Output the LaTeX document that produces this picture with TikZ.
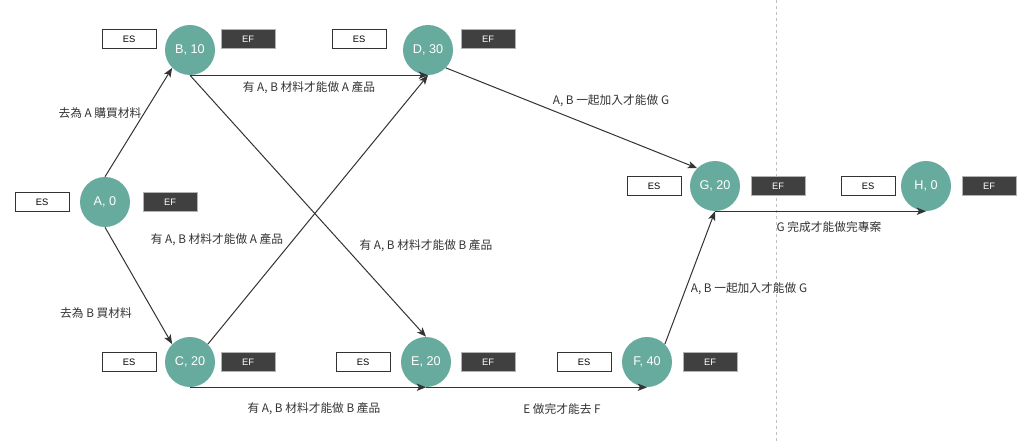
\documentclass[tikz,border=0pt]{standalone}
\usepackage{fontspec}
\setmainfont{Liberation Sans}
\newfontfamily\cjk{Noto Sans CJK TC}
\usetikzlibrary{arrows.meta}
\definecolor{teal}{HTML}{67AB9F}
\definecolor{darkbox}{HTML}{404040}
\definecolor{lineclr}{HTML}{333333}
\tikzset{
  act/.style={circle,fill=teal,draw=none,minimum size=37.5pt,inner sep=0pt,text=white,font=\fontsize{9.5}{10}\selectfont},
  esbox/.style={rectangle,draw=lineclr,fill=white,line width=0.75pt,minimum width=40.5pt,minimum height=14pt,inner sep=0pt,font=\fontsize{7}{8}\selectfont,text=black},
  efbox/.style={rectangle,draw=gray!60,fill=darkbox,line width=0.75pt,minimum width=40.5pt,minimum height=14pt,inner sep=0pt,font=\fontsize{7}{8}\selectfont,text=white},
  conn/.style={draw=lineclr,line width=0.75pt,-{Stealth[length=7pt,width=5.5pt,inset=1.8pt]}},
  lbl/.style={font=\cjk\fontsize{8.8}{10}\selectfont,text=black!80,inner sep=1pt}
}
\begin{document}
\begin{tikzpicture}[x=0.75pt,y=-0.75pt]
\useasboundingbox (0,0) rectangle (1024,442);
\fill[white] (0,0) rectangle (1024,442);
\draw[gray!50,line width=0.75pt,dash pattern=on 2.25pt off 2.25pt] (776,0) -- (776,442);

% activities
\node[act] (A) at (105,202) {A, 0};
\node[act] (B) at (190,50) {B, 10};
\node[act] (C) at (190,362) {C, 20};
\node[act] (D) at (428,50) {D, 30};
\node[act] (E) at (426,362) {E, 20};
\node[act] (F) at (647,362) {F, 40};
\node[act] (G) at (715,186) {G, 20};
\node[act] (H) at (926,186) {H, 0};

% ES / EF boxes
\node[esbox] (Aes) at (42,202) {ES};
\node[efbox] (Aef) at (170,202) {EF};
\node[esbox] (Bes) at (129,39) {ES};
\node[efbox] (Bef) at (248,39) {EF};
\node[esbox] (Ces) at (129,362) {ES};
\node[efbox] (Cef) at (248,362) {EF};
\node[esbox] (Des) at (359,39) {ES};
\node[efbox] (Def) at (488,39) {EF};
\node[esbox] (Ees) at (363,362) {ES};
\node[efbox] (Eef) at (488,362) {EF};
\node[esbox] (Fes) at (584,362) {ES};
\node[efbox] (Fef) at (710,362) {EF};
\node[esbox] (Ges) at (654,186) {ES};
\node[efbox] (Gef) at (778,186) {EF};
\node[esbox] (Hes) at (868,186) {ES};
\node[efbox] (Hef) at (989,186) {EF};

% connectors
\draw[conn] (A.north) -- (B.south west);
\draw[conn] (A.south) -- (C.north west);
\draw[conn] (B.south) -- (D.south);
\draw[conn] (B.south) -- (E.north);
\draw[conn] (C.north east) -- (D.south);
\draw[conn] (C.south) -- (E.south);
\draw[conn] (E.south) -- (F.south);
\draw[conn] (D.south east) -- (G.north west);
\draw[conn] (F.north east) -- (G.south);
\draw[conn] (G.south) -- (H.south);

% labels
\node[lbl] (l1) at (100,113) {去為 A 購買材料};
\node[lbl] (l2) at (96,313) {去為 B 買材料};
\node[lbl] (l3) at (309,88) {有 A, B 材料才能做 A 產品};
\node[lbl] (l4) at (217,240) {有 A, B 材料才能做 A 產品};
\node[lbl] (l5) at (426,246) {有 A, B 材料才能做 B 產品};
\node[lbl] (l6) at (314,409) {有 A, B 材料才能做 B 產品};
\node[lbl] (l7) at (611,101) {A, B 一起加入才能做 G};
\node[lbl] (l8) at (562,409) {E 做完才能去 F};
\node[lbl] (l9) at (749,289) {A, B 一起加入才能做 G};
\node[lbl] (l10) at (829,227) {G 完成才能做完專案};
\end{tikzpicture}
\end{document}
